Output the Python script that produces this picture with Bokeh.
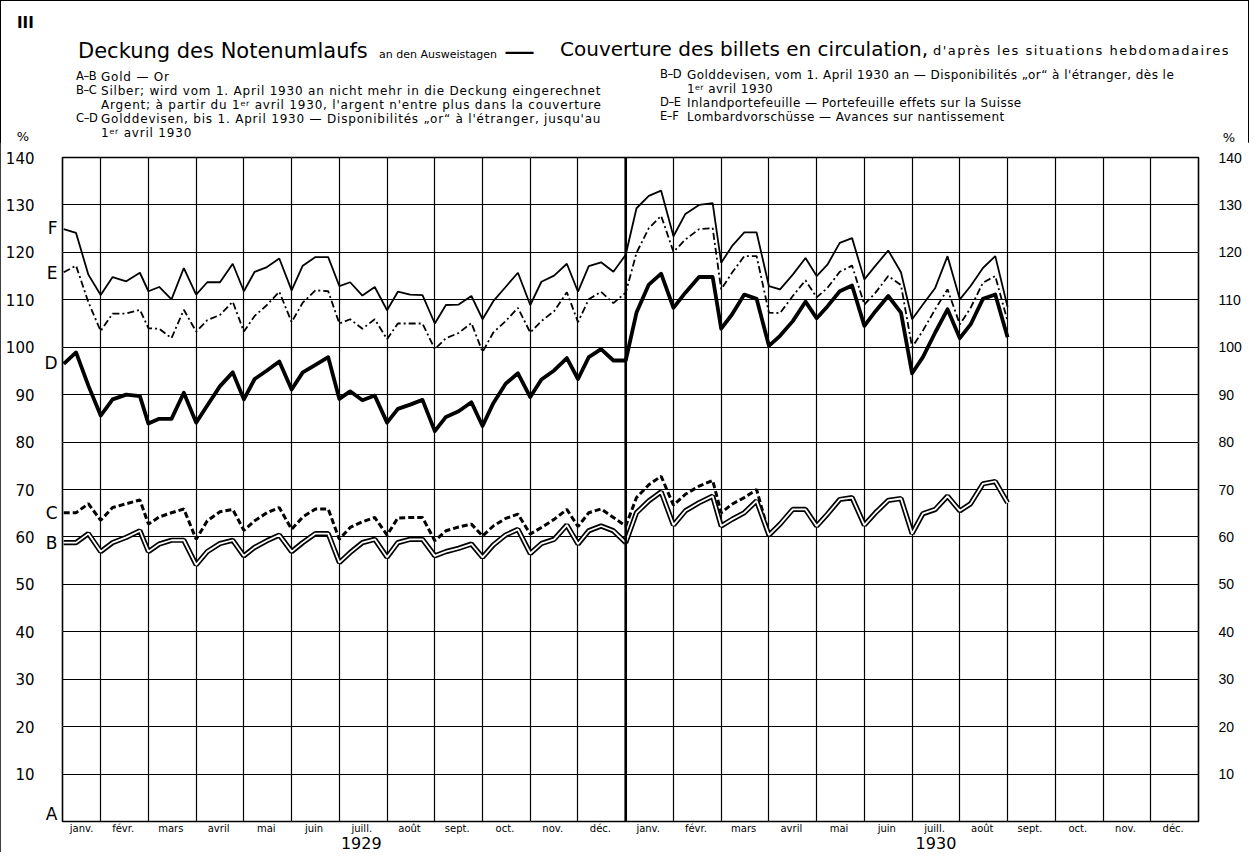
import calendar
from bokeh.plotting import figure
from bokeh.models import Range1d, FixedTicker, LinearAxis, Span, Grid, Div
from bokeh.layouts import column
from bokeh.embed import file_html
from bokeh.resources import INLINE

# ---------------- data ----------------
MONTH_LABELS = ["janv.", "févr.", "mars", "avril", "mai", "juin",
                "juill.", "août", "sept.", "oct.", "nov.", "déc."]
YEARS = ["1929", "1930"]
STATEMENT_DAYS = [7, 15, 23]          # plus the last day of each month
DATA_MONTHS = [(1929, m) for m in range(1, 13)] + [(1930, m) for m in range(1, 9)]
Y_TICKS = [10, 20, 30, 40, 50, 60, 70, 80, 90, 100, 110, 120, 130, 140]

# E-F  Lombardvorschüsse (top of band F), 4 statements per month
F_TOTAL = [124.9, 124.1, 115.3, 111.0,  114.8, 113.9, 115.7, 111.8,
           112.7, 110.1, 116.7, 111.1,  113.7, 113.7, 117.6, 111.8,
           115.9, 116.9, 118.7, 112.0,  117.2, 119.0, 119.0, 112.9,
           113.7, 110.9, 112.7, 107.8,  111.7, 111.1, 111.0, 105.0,
           108.9, 109.0, 110.8, 105.9,  109.7, 112.7, 115.7, 108.9,
           113.8, 115.1, 117.6, 111.7,  117.1, 117.9, 115.9, 119.5,
           129.3, 131.9, 133.0, 123.4,  128.1, 130.0, 130.4, 117.8,
           121.3, 124.2, 124.2, 112.9,  112.2, 115.3, 118.8, 115.0,
           117.4, 122.0, 123.0, 114.3,  117.2, 120.4, 115.8, 105.9,
           109.0, 112.5, 119.2, 110.1,  112.9, 116.7, 119.2, 108.5]
# D-E  Inlandportefeuille (top of band E)
E_LEVEL = [115.8, 117.2, 109.5, 103.4,  107.1, 107.1, 107.9, 104.0,
           103.9, 101.9, 107.9, 103.3,  105.7, 106.8, 109.6, 103.3,
           106.6, 108.9, 111.7, 105.3,  109.4, 112.0, 111.8, 105.0,
           105.9, 103.9, 105.9, 101.7,  105.0, 105.0, 105.0, 99.6,
           101.9, 103.0, 105.1, 99.0,   103.1, 105.5, 108.3, 103.1,
           105.5, 107.6, 111.6, 105.3,  110.1, 111.7, 109.3, 111.5,
           119.9, 125.1, 127.7, 120.1,  122.7, 124.9, 125.1, 112.2,
           115.7, 119.2, 119.2, 107.3,  107.2, 110.8, 114.1, 110.5,
           112.5, 115.9, 117.2, 109.0,  111.5, 115.0, 113.1, 100.0,
           103.5, 108.0, 112.2, 104.8,  108.3, 113.6, 115.0, 105.5]
# C-D / B-D  Golddevisen (top of band D)
D_LEVEL = [96.5, 98.9, 91.9, 85.6,   89.0, 90.0, 89.7, 83.9,
           84.9, 84.9, 90.4, 84.1,   87.7, 91.8, 94.7, 89.0,
           93.3, 95.1, 97.0, 91.1,   94.7, 96.3, 97.9, 89.1,
           90.7, 88.8, 89.8, 84.1,   87.0, 87.9, 88.9, 82.3,
           85.3, 86.5, 88.4, 83.4,   88.2, 92.3, 94.5, 89.5,
           93.2, 95.1, 97.7, 93.3,   97.9, 99.6, 97.2, 97.2,
           107.3, 113.2, 115.5, 108.3, 111.5, 114.8, 114.8, 103.9,
           106.9, 111.1, 110.2, 100.3, 102.4, 105.5, 109.6, 106.1,
           108.6, 111.8, 113.0, 104.5, 107.6, 110.8, 107.3, 94.5,
           97.9, 103.1, 108.0, 101.9,  104.8, 110.2, 111.1, 102.1]
# B-C  Silber (top of band C), counted until 1 April 1930
C_LEVEL = [65.1, 65.1, 67.0, 63.5,   66.2, 67.0, 67.8, 62.7,
           64.2, 65.1, 65.9, 59.5,   63.4, 65.3, 65.8, 61.4,
           63.4, 65.1, 66.2, 61.6,   64.2, 65.9, 65.9, 59.5,
           62.0, 63.2, 64.1, 60.4,   64.0, 64.1, 64.1, 59.2,
           61.3, 62.1, 62.7, 60.2,   62.3, 63.9, 64.8, 60.6,
           62.0, 63.7, 65.8, 62.2,   65.1, 65.9, 64.1, 62.3,
           68.3, 71.0, 72.8, 66.7,   69.0, 70.7, 71.9, 65.1,
           66.9, 68.3, 70.0, 60.6]
# A-B  Gold (top of band B)
B_GOLD = [58.8, 58.8, 60.7, 56.9,   58.8, 59.9, 61.3, 56.9,
          58.5, 59.3, 59.3, 54.1,   56.9, 58.6, 59.3, 56.0,
          57.8, 59.2, 60.4, 56.9,   58.8, 60.7, 60.7, 54.6,
          56.7, 58.8, 59.5, 55.7,   58.8, 59.5, 59.5, 56.0,
          56.9, 57.6, 58.5, 55.7,   58.3, 60.4, 61.6, 56.5,
          58.6, 59.5, 62.5, 58.5,   61.3, 62.3, 61.3, 58.8,
          65.1, 67.6, 69.5, 62.5,   65.5, 67.2, 68.6, 62.3,
          63.7, 65.1, 67.6, 60.4,   62.7, 65.8, 65.8, 62.3,
          64.8, 67.9, 68.3, 62.5,   65.1, 67.7, 68.1, 60.7,
          64.9, 65.8, 68.6, 65.5,   67.0, 71.2, 71.7, 67.2]

# band letters at the left edge of the grid
BAND_LETTERS = ["A", "B", "C", "D", "E", "F"]
BAND_LETTER_Y = [1.5, 58.7, 65.0, 96.6, 115.7, 125.1]

# statement dates -> position in month units (0 = 1 Jan 1929)
x_week = []
for i, (yr, mo) in enumerate(DATA_MONTHS):
    nd = calendar.monthrange(yr, mo)[1]
    for d in STATEMENT_DAYS + [nd]:
        x_week.append(i + d / nd)

# ---------------- layout ----------------
FONT = "DejaVu Sans"
W = 1249
HEAD_H = 142
X0, X1, Y0, Y1 = 0.2, 24.0, 0.0, 140.0
ML, MR, MT, MB = 62, 51, 15, 31
FW, FH = W - ML - MR, 664
PH = MT + FH + MB

p = figure(width=W, height=PH, x_range=Range1d(X0, X1), y_range=Range1d(Y0, Y1),
           output_backend="svg", toolbar_location=None,
           min_border_left=ML, min_border_right=MR, min_border_top=MT, min_border_bottom=MB,
           x_axis_location=None, y_axis_location=None)
p.background_fill_color = "white"
p.border_fill_color = "white"
p.outline_line_color = "black"
p.outline_line_width = 1.6


def style_axis(ax, size, standoff, font=FONT, weight="normal"):
    ax.axis_line_color = None
    ax.major_tick_line_color = None
    ax.minor_tick_line_color = None
    ax.major_tick_out = 0
    ax.major_tick_in = 0
    ax.minor_tick_out = 0
    ax.minor_tick_in = 0
    ax.major_label_text_font = font
    ax.major_label_text_font_size = size
    ax.major_label_text_font_style = weight
    ax.major_label_text_color = "black"
    ax.major_label_standoff = standoff


# left: band letters (inner) + percent scale (outer)
letter_ax = LinearAxis(ticker=FixedTicker(ticks=BAND_LETTER_Y),
                       major_label_overrides=dict(zip(BAND_LETTER_Y, BAND_LETTERS)))
style_axis(letter_ax, "17px", 5)
p.add_layout(letter_ax, "left")
left_ax = LinearAxis(ticker=FixedTicker(ticks=Y_TICKS))
style_axis(left_ax, "15px", 7)
p.add_layout(left_ax, "left")

right_ax = LinearAxis(ticker=FixedTicker(ticks=Y_TICKS))
style_axis(right_ax, "14px", 20, font="Liberation Sans")
p.add_layout(right_ax, "right")

# bottom: month names, then years
month_ticks, month_over = [], {}
for yi in range(2):
    for mi, ml in enumerate(MONTH_LABELS):
        k = yi * 12 + mi
        t = 0.6 if k == 0 else k + 0.47
        month_ticks.append(t)
        month_over[t] = ml
month_ax = LinearAxis(ticker=FixedTicker(ticks=month_ticks), major_label_overrides=month_over)
style_axis(month_ax, "10px", 1)
p.add_layout(month_ax, "below")

year_pos = [6.46, 18.5]
year_ax = LinearAxis(ticker=FixedTicker(ticks=year_pos),
                     major_label_overrides=dict(zip(year_pos, YEARS)))
style_axis(year_ax, "16px", 0)
p.add_layout(year_ax, "below")

# grid
p.add_layout(Grid(dimension=1, ticker=FixedTicker(ticks=Y_TICKS[:-1]),
                  grid_line_color="black", grid_line_width=1.0))
p.add_layout(Grid(dimension=0, ticker=FixedTicker(ticks=list(range(1, 24))),
                  grid_line_color="black", grid_line_width=1.2))
p.add_layout(Span(location=12, dimension="height", line_color="black", line_width=2.6))

# series
p.line(x_week, F_TOTAL, line_color="black", line_width=1.8)
p.line(x_week, E_LEVEL, line_color="black", line_width=1.8, line_dash="7 3 2 3")
p.line(x_week, D_LEVEL, line_color="black", line_width=3.8, line_join="round")
p.line(x_week[:len(C_LEVEL)], C_LEVEL, line_color="black", line_width=3.0, line_dash="6 3")
p.line(x_week, B_GOLD, line_color="black", line_width=5.2)
p.line(x_week, B_GOLD, line_color="white", line_width=1.8)

# ---------------- header (HTML) ----------------
ASC = 0.846  # baseline offset for line-height 1


def t(x, base, text, size, weight="normal", ls=0.0, center=False):
    top = base - ASC * size
    tr = "transform:translateX(-50%);" if center else ""
    return (f'<div style="position:absolute;left:{x}px;top:{top:.1f}px;font-size:{size}px;'
            f'line-height:1;white-space:nowrap;font-weight:{weight};letter-spacing:{ls}px;{tr}">'
            f'{text}</div>')


KS, TS = 11.5, 12          # key size, text size
LSL, LSR = 0.8, 0.45       # letter spacing, left / right key block
ER = '1<sup style="font-size:0.65em;vertical-align:0.45em;line-height:0">er</sup>'
parts = [
    t(17, 29, "III", 15, weight="bold"),
    t(78, 59, "Deckung des Notenumlaufs", 21),
    t(379, 58, "an den Ausweistagen", 11),
    t(504, 61, "—", 31),
    t(560, 56, "Couverture des billets en circulation,", 20),
    t(933, 55, "d'après les situations hebdomadaires", 13, ls=1.5),
    # left key block
    t(76, 81, "A–B", KS, ls=-0.4), t(101, 81, "Gold — Or", TS, ls=LSL),
    t(76, 95, "B–C", KS, ls=-0.4),
    t(101, 95, "Silber; wird vom 1. April 1930 an nicht mehr in die Deckung eingerechnet", TS, ls=LSL),
    t(101, 109, f"Argent; à partir du {ER} avril 1930, l'argent n'entre plus dans la couverture", TS, ls=LSL),
    t(76, 123, "C–D", KS, ls=-0.4),
    t(101, 123, "Golddevisen, bis 1. April 1930 — Disponibilités „or“ à l'étranger, jusqu'au", TS, ls=LSL),
    t(101, 137, f"{ER} avril 1930", TS, ls=LSL),
    # right key block
    t(660, 79, "B–D", KS, ls=-0.4),
    t(687, 79, "Golddevisen, vom 1. April 1930 an — Disponibilités „or“ à l'étranger, dès le", TS, ls=LSR),
    t(687, 93, f"{ER} avril 1930", TS, ls=LSR),
    t(660, 107, "D–E", KS, ls=-0.4),
    t(687, 107, "Inlandportefeuille — Portefeuille effets sur la Suisse", TS, ls=LSR),
    t(660, 121, "E–F", KS, ls=-0.4),
    t(687, 121, "Lombardvorschüsse — Avances sur nantissement", TS, ls=LSR),
    # percent signs above the scales
    t(23, 141, "%", 13, center=True),
    t(1229, 142, "%", 13, center=True),
]
head_html = (f'<div style="position:relative;width:{W}px;height:{HEAD_H}px;overflow:visible;'
             f'font-family:\'DejaVu Sans\',sans-serif;color:black;">' + "".join(parts) + '</div>')
head = Div(text=head_html, width=W, height=HEAD_H, margin=(0, 0, 0, 0))

layout = column(head, p, spacing=0, margin=(0, 0, 0, 0))
layout.styles = {"outline": "1.5px solid black", "outline-offset": "-1.5px", "background": "white"}

open("out.html", "w").write(file_html(layout, INLINE))
